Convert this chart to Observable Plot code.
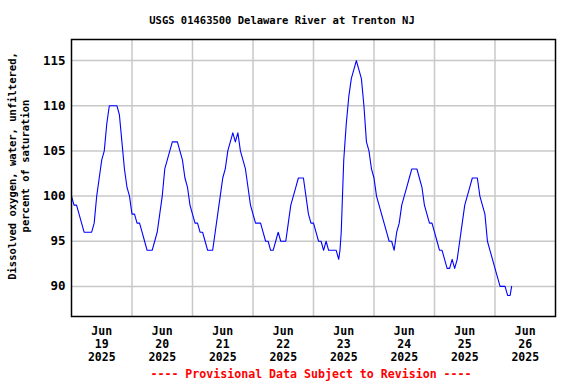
<!DOCTYPE html>
<html>
<head>
<meta charset="utf-8">
<script src="https://cdn.jsdelivr.net/npm/d3@7"></script>
<script src="https://cdn.jsdelivr.net/npm/@observablehq/plot@0.6"></script>
<style>
  html, body { margin: 0; padding: 0; background: #fff; }
  #wrap { position: relative; width: 576px; height: 384px; overflow: hidden; }
  .t { position: absolute; font-family: "DejaVu Sans Mono", monospace; font-weight: bold; white-space: pre; }
  #title { left: 282px; top: 20px; transform: translate(-50%, -50%); font-size: 10.5px; color: #000; }
  #ylab { left: 19px; top: 166px; transform: translate(-50%, -50%) rotate(-90deg); font-size: 10.5px; line-height: 13px; text-align: center; color: #000; }
  #foot { left: 311px; top: 374px; transform: translate(-50%, -50%); font-size: 11.6px; color: #ff0000; }
  svg { position: absolute; left: 0; top: 0; }
</style>
</head>
<body>
<div id="wrap"></div>
<script>
const titleText = "USGS 01463500 Delaware River at Trenton NJ";
const yLabelText = "Dissolved oxygen, water, unfiltered,\npercent of saturation";
const footText = "---- Provisional Data Subject to Revision ----";

const startDate = Date.UTC(2025, 5, 19); // Jun 19 2025 00:00
const dayCount = 8;

// hours since Jun 19 00:00
const obsHours = [
  0,1,2,3,4,5,6,7,8,9,10,11,12,13,14,15,16,17,18,19,20,21,22,23,
  24,25,26,27,28,29,30,31,32,33,34,35,36,37,38,39,40,41,42,43,44,45,46,47,
  48,49,50,51,52,53,54,55,56,57,58,59,60,61,62,63,64,65,66,67,68,69,70,71,
  72,73,74,75,76,77,78,79,80,81,82,83,84,85,86,87,88,89,90,91,92,93,94,95,
  96,97,98,99,100,101,102,103,104,105,106,106.5,107,107.5,108,108.5,109,110,111,112,113,114,115,116,117,118,119,
  120,121,122,123,124,125,126,127,128,129,130,131,132,133,134,135,136,137,138,139,140,141,142,143,
  144,145,146,147,148,149,150,151,152,153,154,155,156,157,158,159,160,161,162,163,164,165,166,167,
  168,169,170,171,172,173,174,174.6
];
// dissolved oxygen, percent of saturation
const doValues = [
  100,99,99,98,97,96,96,96,96,97,100,102,104,105,108,110,110,110,110,109,106,103,101,100,
  98,98,97,97,96,95,94,94,94,95,96,98,100,103,104,105,106,106,106,105,104,102,101,99,
  98,97,97,96,96,95,94,94,94,96,98,100,102,103,105,106,107,106,107,105,104,103,101,99,
  98,97,97,97,96,95,95,94,94,95,96,95,95,95,97,99,100,101,102,102,102,100,98,97,
  97,96,95,95,94,95,94,94,94,94,93,94,96,100,104,106,108,111,113,114,115,114,113,110,106,105,103,
  102,100,99,98,97,96,95,95,94,96,97,99,100,101,102,103,103,103,102,101,99,98,97,97,
  96,95,94,94,93,92,92,93,92,93,95,97,99,100,101,102,102,102,100,99,98,95,94,93,
  92,91,90,90,90,89,89,90
];

const yTicks = [90, 95, 100, 105, 110, 115];
const yGrid = [90, 95, 100, 105, 110, 115];
const xTickLabels = [
  "Jun\n19\n2025", "Jun\n20\n2025", "Jun\n21\n2025", "Jun\n22\n2025",
  "Jun\n23\n2025", "Jun\n24\n2025", "Jun\n25\n2025", "Jun\n26\n2025"
];

const DAY = 864e5, HOUR = 36e5;
const data = obsHours.map((h, i) => ({ t: new Date(startDate + h * HOUR), v: doValues[i] }));
const noonTicks = xTickLabels.map((_, i) => new Date(startDate + i * DAY + 12 * HOUR));
const midnightGrid = d3.range(1, dayCount).map(i => new Date(startDate + i * DAY));
const labelByTime = new Map(noonTicks.map((d, i) => [+d, xTickLabels[i]]));

const chart = Plot.plot({
  width: 576,
  height: 384,
  marginLeft: 71,
  marginRight: 21,
  marginTop: 39,
  marginBottom: 68,
  style: { fontFamily: "DejaVu Sans Mono, monospace", fontWeight: "bold", background: "white", color: "black" },
  x: { type: "utc", domain: [new Date(startDate), new Date(startDate + dayCount * DAY)] },
  y: { domain: [86.67, 117.33] },
  marks: [
    Plot.gridX(midnightGrid, { stroke: "#c8c8c8", strokeOpacity: 1, strokeWidth: 1.5 }),
    Plot.gridY(yGrid, { stroke: "#c8c8c8", strokeOpacity: 1, strokeWidth: 1.5 }),
    Plot.line(data, { x: "t", y: "v", stroke: "#0000ff", strokeWidth: 1.1 }),
    Plot.frame({ stroke: "black", strokeWidth: 1.5 }),
    Plot.axisX(noonTicks, {
      tickSize: 0, tickPadding: 9, fontSize: 11.5, lineHeight: 1.13,
      tickFormat: d => labelByTime.get(+d), label: null, fill: "black"
    }),
    Plot.axisY(yTicks, {
      tickSize: 0, tickPadding: 6, fontSize: 12.5, label: null, fill: "black"
    })
  ]
});

const wrap = document.getElementById("wrap");
wrap.appendChild(chart);
for (const [id, txt] of [["title", titleText], ["ylab", yLabelText], ["foot", footText]]) {
  const el = document.createElement("div");
  el.className = "t";
  el.id = id;
  el.textContent = txt;
  wrap.appendChild(el);
}
</script>
</body>
</html>
